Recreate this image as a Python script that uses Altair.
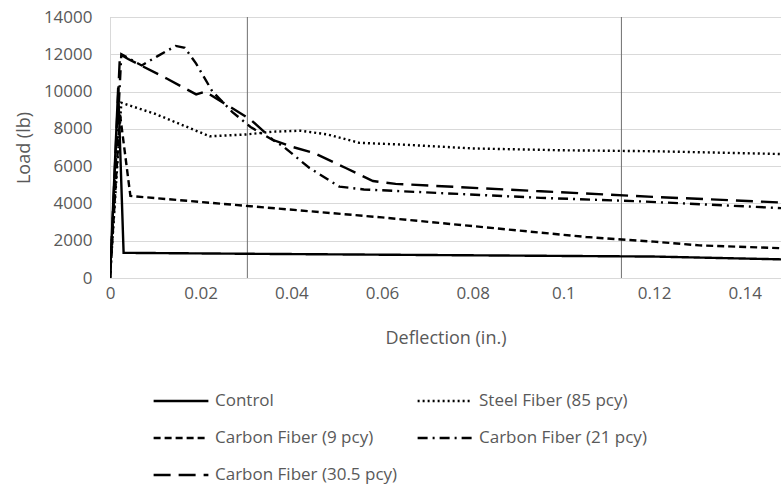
import altair as alt
import pandas as pd

series_names = ["Control", "Steel Fiber (85 pcy)", "Carbon Fiber (9 pcy)",
                "Carbon Fiber (21 pcy)", "Carbon Fiber (30.5 pcy)"]

control_x = [0.0, 0.0018, 0.0030, 0.03, 0.06, 0.09, 0.12, 0.148]
control_y = [0, 10200, 1350, 1300, 1250, 1200, 1150, 1000]

steel_x = [0.0, 0.0025, 0.010, 0.022, 0.030, 0.036, 0.042, 0.048, 0.055, 0.065, 0.080, 0.100, 0.120, 0.148]
steel_y = [0, 9400, 8800, 7600, 7700, 7850, 7900, 7700, 7250, 7150, 6950, 6850, 6800, 6650]

c9_x = [0.0, 0.0022, 0.0045, 0.031, 0.060, 0.090, 0.105, 0.120, 0.130, 0.148]
c9_y = [0, 8800, 4400, 3850, 3250, 2550, 2200, 1950, 1750, 1600]

c21_x = [0.0, 0.0025, 0.007, 0.0105, 0.0145, 0.0165, 0.019, 0.0226, 0.027, 0.031, 0.038, 0.044, 0.0506, 0.056, 0.095, 0.118, 0.148]
c21_y = [0, 12000, 11400, 11900, 12450, 12350, 11500, 10000, 8900, 8100, 7100, 5900, 4900, 4750, 4300, 4100, 3750]

c305_x = [0.0, 0.0022, 0.004, 0.0125, 0.019, 0.021, 0.031, 0.036, 0.040, 0.045, 0.052, 0.058, 0.063, 0.095, 0.120, 0.148]
c305_y = [0, 12000, 11750, 10700, 9850, 10000, 8500, 7400, 7050, 6700, 5900, 5200, 5050, 4650, 4350, 4050]

vline_x = [0.0303, 0.1128]

x_ticks = [0, 0.02, 0.04, 0.06, 0.08, 0.1, 0.12, 0.14]
y_ticks = [0, 2000, 4000, 6000, 8000, 10000, 12000, 14000]

rows = []
for name, xs, ys in zip(series_names,
                        [control_x, steel_x, c9_x, c21_x, c305_x],
                        [control_y, steel_y, c9_y, c21_y, c305_y]):
    for i, (xv, yv) in enumerate(zip(xs, ys)):
        rows.append({"series": name, "x": xv, "y": yv, "i": i})
df = pd.DataFrame(rows)
vdf = pd.DataFrame({"x": vline_x})

font = "Open Sans"
gray = "#595959"

dash_range = [[1, 0], [2, 3], [7, 4], [10, 5, 2, 5], [17, 8]]

lines = alt.Chart(df).mark_line(color="black", strokeWidth=2.4, clip=True).encode(
    x=alt.X("x:Q", scale=alt.Scale(domain=[0, 0.148], nice=False, zero=True),
            axis=alt.Axis(values=x_ticks, title="Deflection (in.)", grid=False,
                          ticks=False, labelPadding=7, titlePadding=28,
                          labelFlush=False, domain=True, domainColor="#d9d9d9",
                          labelFontSize=17, titleFontSize=18,
                          labelColor=gray, titleColor=gray,
                          labelFont=font, titleFont=font, titleFontWeight="normal",
                          labelExpr="format(datum.value, '')")),
    y=alt.Y("y:Q", scale=alt.Scale(domain=[0, 14000], nice=False),
            axis=alt.Axis(values=y_ticks, title="Load (lb)", grid=True,
                          gridColor="#d9d9d9", ticks=False, labelPadding=18,
                          titlePadding=10, domain=True, domainColor="#d9d9d9",
                          labelFontSize=17, titleFontSize=18,
                          labelColor=gray, titleColor=gray,
                          labelFont=font, titleFont=font, titleFontWeight="normal",
                          labelExpr="format(datum.value, 'd')")),
    strokeDash=alt.StrokeDash("series:N",
                              scale=alt.Scale(domain=series_names, range=dash_range),
                              legend=alt.Legend(title=None, orient="none",
                                                direction="horizontal",
                                                legendX=42, legendY=355,
                                                columns=2, columnPadding=14,
                                                rowPadding=0,
                                                symbolType="stroke",
                                                symbolSize=3000,
                                                symbolStrokeWidth=2.4,
                                                symbolStrokeColor="black",
                                                labelFont=font, labelFontSize=17,
                                                labelColor=gray, labelOffset=5,
                                                labelLimit=300)),
    order="i:Q",
)

vlines = alt.Chart(vdf).mark_rule(color="#707070", strokeWidth=1).encode(x="x:Q")

chart = alt.layer(vlines, lines).properties(
    width=671, height=261,
    autosize=alt.AutoSizeParams(type="none"),
    padding={"left": 110, "top": 17, "right": 0, "bottom": 207},
).configure_view(stroke="#bfbfbf", strokeWidth=1)

chart.save("out.html", embed_options={"renderer": "svg", "actions": False})
